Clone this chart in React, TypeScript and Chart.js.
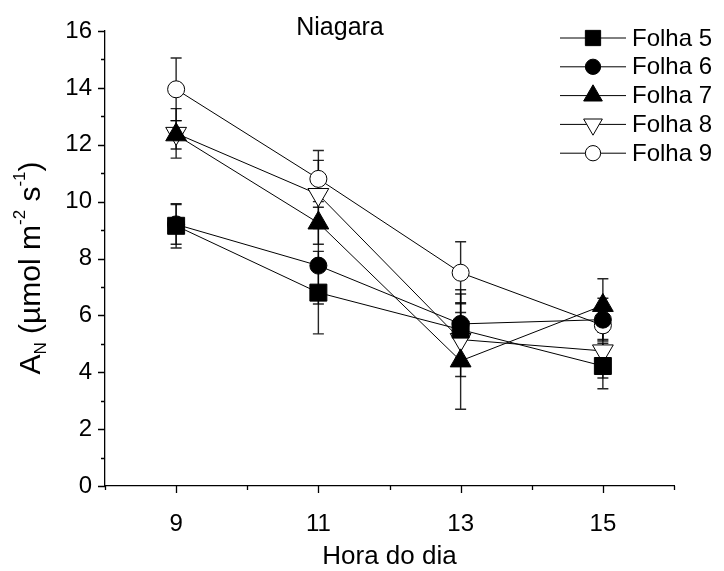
import React, { useEffect, useRef } from 'react';
import { Chart, registerables } from 'chart.js';
import { drawPoint } from 'chart.js/helpers';

Chart.register(...registerables);

// ---- data ----
const hours = [9, 11, 13, 15];
const seriesNames = ['Folha 5', 'Folha 6', 'Folha 7', 'Folha 8', 'Folha 9'];
const folha5 = [9.15, 6.8, 5.5, 4.22];
const folha5Err = [0.78, 1.45, 1.25, 0.8];
const folha6 = [9.2, 7.75, 5.7, 5.85];
const folha6Err = [0.7, 1.35, 1.2, 0.75];
const folha7 = [12.35, 9.25, 4.4, 6.35];
const folha7Err = [0.5, 0.75, 1.7, 0.94];
const folha8 = [12.4, 10.25, 5.15, 4.75];
const folha8Err = [0.87, 1.2, 1.3, 0.95];
const folha9 = [13.95, 10.8, 7.5, 5.65];
const folha9Err = [1.1, 1.0, 1.09, 0.5];
const xTickLabels = ['9', '11', '13', '15'];
const yTickLabels = ['0', '2', '4', '6', '8', '10', '12', '14', '16'];
const chartTitle = 'Niagara';
const xAxisTitle = 'Hora do dia';

const FONT = '"Liberation Sans", Arial, Helvetica, sans-serif';

const seriesValues = [folha5, folha6, folha7, folha8, folha9];
const seriesErrors = [folha5Err, folha6Err, folha7Err, folha8Err, folha9Err];
const markerStyles = [
  { pointStyle: 'rect', radius: 12, rotation: 0, fill: '#000' },
  { pointStyle: 'circle', radius: 8.5, rotation: 0, fill: '#000' },
  { pointStyle: 'triangle', radius: 12, rotation: 0, fill: '#000' },
  { pointStyle: 'triangle', radius: 12, rotation: 180, fill: '#fff' },
  { pointStyle: 'circle', radius: 8.5, rotation: 0, fill: '#fff' },
];

const errorBarPlugin = {
  id: 'errorBars',
  beforeDatasetsDraw(chart: any) {
    const ctx = chart.ctx;
    const xs = chart.scales.x;
    const ys = chart.scales.y;
    ctx.save();
    ctx.strokeStyle = 'rgba(0,0,0,0.85)';
    ctx.lineWidth = 1.4;
    chart.data.datasets.forEach((ds: any) => {
      (ds.data as any[]).forEach((p: any, j: number) => {
        const e = ds.errors[j];
        const px = xs.getPixelForValue(p.x);
        const top = ys.getPixelForValue(p.y + e);
        const bot = ys.getPixelForValue(p.y - e);
        ctx.beginPath();
        ctx.moveTo(px, top);
        ctx.lineTo(px, bot);
        ctx.moveTo(px - 5.5, top);
        ctx.lineTo(px + 5.5, top);
        ctx.moveTo(px - 5.5, bot);
        ctx.lineTo(px + 5.5, bot);
        ctx.stroke();
      });
    });
    ctx.restore();
  },
};

const ticksPlugin = {
  id: 'ticksMarks',
  afterDraw(chart: any) {
    const ctx = chart.ctx;
    const xs = chart.scales.x;
    const ys = chart.scales.y;
    const area = chart.chartArea;
    ctx.save();
    ctx.strokeStyle = '#000';
    ctx.lineWidth = 1.3;
    ctx.beginPath();
    xs.ticks.forEach((t: any) => {
      const major = xTickLabels.includes(String(t.value));
      const px = Math.round(xs.getPixelForValue(t.value)) + 0.5;
      ctx.moveTo(px, area.bottom);
      ctx.lineTo(px, area.bottom + (major ? 7 : 4));
    });
    ys.ticks.forEach((t: any) => {
      const major = yTickLabels.includes(String(t.value));
      const py = Math.round(ys.getPixelForValue(t.value)) + 0.5;
      ctx.moveTo(area.left, py);
      ctx.lineTo(area.left - (major ? 7 : 4), py);
    });
    ctx.stroke();
    ctx.restore();
  },
};

const textPlugin = {
  id: 'extraText',
  afterDraw(chart: any) {
    const ctx = chart.ctx;
    ctx.save();
    ctx.fillStyle = '#000';
    // title
    ctx.font = `25px ${FONT}`;
    ctx.textAlign = 'center';
    ctx.textBaseline = 'middle';
    ctx.fillText(chartTitle, 340, 28);

    // legend
    const ds = chart.data.datasets;
    ds.forEach((d: any, i: number) => {
      const y = 38 + i * 28.8;
      ctx.strokeStyle = '#000';
      ctx.lineWidth = 1;
      ctx.beginPath();
      ctx.moveTo(560, y);
      ctx.lineTo(626, y);
      ctx.stroke();
      ctx.fillStyle = d.pointBackgroundColor;
      ctx.strokeStyle = '#000';
      ctx.lineWidth = 1;
      drawPoint(ctx, { pointStyle: d.pointStyle, rotation: d.pointRotation, radius: d.pointRadius * 0.9, borderWidth: 1 }, 593, y);
      ctx.fillStyle = '#000';
      ctx.font = `24px ${FONT}`;
      ctx.textAlign = 'left';
      ctx.textBaseline = 'middle';
      ctx.fillText(d.label, 632, y + 1);
    });

    // y axis title with sub/superscripts
    const parts = [
      { t: 'A', s: 30, dy: 0 },
      { t: 'N', s: 17, dy: 9 },
      { t: ' (\u00b5mol m', s: 30, dy: 0 },
      { t: '-2', s: 17, dy: -12 },
      { t: ' s', s: 30, dy: 0 },
      { t: '-1', s: 17, dy: -12 },
      { t: ')', s: 30, dy: 0 },
    ];
    let total = 0;
    parts.forEach((p) => {
      ctx.font = `${p.s}px ${FONT}`;
      total += ctx.measureText(p.t).width;
    });
    ctx.translate(32, 268);
    ctx.rotate(-Math.PI / 2);
    ctx.textAlign = 'left';
    ctx.textBaseline = 'middle';
    let x = -total / 2;
    parts.forEach((p) => {
      ctx.font = `${p.s}px ${FONT}`;
      ctx.fillText(p.t, x, p.dy);
      x += ctx.measureText(p.t).width;
    });
    ctx.restore();
  },
};

export default function App() {
  const ref = useRef<HTMLCanvasElement | null>(null);
  useEffect(() => {
    document.body.style.margin = '0';
    if (!ref.current) return;
    const datasets = seriesNames.map((name, i) => ({
      label: name,
      data: hours.map((h, j) => ({ x: h, y: seriesValues[i][j] })),
      errors: seriesErrors[i],
      showLine: true,
      borderColor: '#000',
      borderWidth: 1,
      pointStyle: markerStyles[i].pointStyle,
      pointRotation: markerStyles[i].rotation,
      pointRadius: markerStyles[i].radius,
      pointHoverRadius: markerStyles[i].radius,
      pointBackgroundColor: markerStyles[i].fill,
      pointBorderColor: '#000',
      pointBorderWidth: 1,
    }));
    const chart = new Chart(ref.current, {
      type: 'scatter',
      data: { datasets } as any,
      options: {
        responsive: false,
        animation: false,
        devicePixelRatio: 1,
        layout: { padding: { left: 0, right: 50, top: 31, bottom: 0 } },
        plugins: { legend: { display: false }, tooltip: { enabled: false } },
        scales: {
          x: {
            type: 'linear',
            min: 8,
            max: 16,
            afterFit(s: any) { s.height = 85; },
            ticks: {
              stepSize: 1,
              autoSkip: false,
              maxRotation: 0,
              padding: 17,
              color: '#000',
              font: { size: 24, family: FONT },
              callback: (v: any) => (xTickLabels.includes(String(v)) ? String(v) : ''),
            },
            grid: { display: true, drawOnChartArea: false, drawTicks: true, tickLength: 7, tickColor: 'transparent' },
            border: { display: true, color: '#000', width: 1.3 },
            title: { display: true, text: xAxisTitle, color: '#000', font: { size: 26, family: FONT }, padding: { top: 0, bottom: -1 } },
          },
          y: {
            type: 'linear',
            min: 0,
            max: 16,
            afterFit(s: any) { s.width = 105; },
            ticks: {
              stepSize: 1,
              autoSkip: false,
              padding: 6,
              color: '#000',
              font: { size: 24, family: FONT },
              callback: (v: any) => (yTickLabels.includes(String(v)) ? String(v) : ''),
            },
            grid: { display: true, drawOnChartArea: false, drawTicks: true, tickLength: 7, tickColor: 'transparent' },
            border: { display: true, color: '#000', width: 1.3 },
          },
        },
      },
      plugins: [errorBarPlugin, ticksPlugin, textPlugin],
    } as any);
    return () => chart.destroy();
  }, []);
  return (
    <div style={{ width: 724, height: 571 }}>
      <canvas ref={ref} width={724} height={571} style={{ width: 724, height: 571, display: 'block' }} />
    </div>
  );
}
